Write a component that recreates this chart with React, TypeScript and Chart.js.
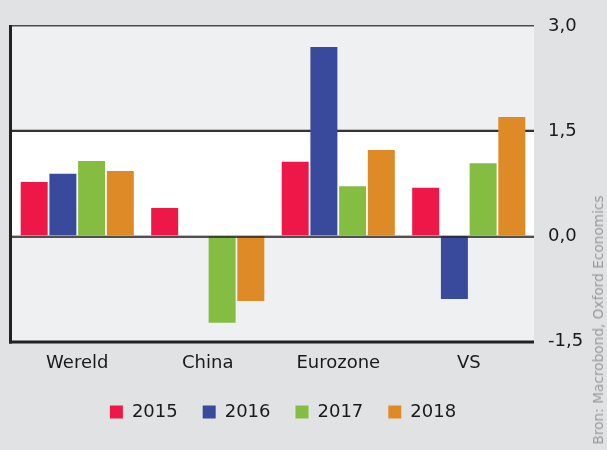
import React, { useEffect, useRef } from "react";
import { Chart, registerables } from "chart.js";

Chart.register(...registerables);

const categories = ["Wereld", "China", "Eurozone", "VS"];
const seriesLabels = ["2015", "2016", "2017", "2018"];
const values2015 = [0.77, 0.4, 1.06, 0.69];
const values2016 = [0.89, null, 2.7, -0.9];
const values2017 = [1.07, -1.24, 0.71, 1.04];
const values2018 = [0.93, -0.93, 1.23, 1.7];
const yTicks = [-1.5, 0, 1.5, 3.0];
const seriesColors = ["#ee1848", "#394a9c", "#84bd41", "#de8b27"];
const sourceText = "Bron: Macrobond, Oxford Economics";

const FONT = "'DejaVu Sans', sans-serif";

const decorPlugin = {
  id: "decor",
  afterLayout(chart: any) {
    const lg = chart.legend;
    if (lg) {
      const dx = 283 - (lg.left + lg.right) / 2;
      lg.left += dx;
      lg.right += dx;
      const h = lg.bottom - lg.top;
      lg.top = 378;
      lg.bottom = 378 + h;
    }
  },
  beforeDatasetsDraw(chart: any) {
    const { ctx, chartArea: a, scales } = chart;
    const y = scales.y;
    const w = a.right - a.left;
    ctx.save();
    ctx.fillStyle = "#eff0f2";
    ctx.fillRect(a.left, a.top, w, a.bottom - a.top);
    const y15 = y.getPixelForValue(1.5);
    const y0 = y.getPixelForValue(0);
    ctx.fillStyle = "#ffffff";
    ctx.fillRect(a.left, y15, w, y0 - y15);
    ctx.fillStyle = "#4a4a4a";
    ctx.fillRect(a.left, a.top - 1, w, 1.5);
    ctx.fillStyle = "#bdbdbd";
    ctx.fillRect(a.left, y15 - 2, w, 1);
    ctx.fillStyle = "#333333";
    ctx.fillRect(a.left, y15 - 1, w, 2);
    ctx.restore();
  },
  afterDatasetsDraw(chart: any) {
    const { ctx, chartArea: a, scales } = chart;
    const y = scales.y;
    const w = a.right - a.left;
    const y0 = y.getPixelForValue(0);
    ctx.save();
    ctx.fillStyle = "rgba(170,170,170,0.8)";
    ctx.fillRect(a.left, y0 - 1, w, 1);
    ctx.fillStyle = "rgba(40,40,40,0.8)";
    ctx.fillRect(a.left, y0, w, 2);
    ctx.fillStyle = "#222222";
    ctx.fillRect(a.left - 3, a.bottom - 0.5, w + 3, 3);
    ctx.fillRect(a.left - 3, a.top - 1, 3, a.bottom - a.top + 3.5);
    ctx.restore();
  },
};

export default function App() {
  const ref = useRef<HTMLCanvasElement | null>(null);

  useEffect(() => {
    if (!ref.current) return;
    Chart.defaults.font.family = FONT;
    const data = [values2015, values2016, values2017, values2018];
    const chart = new Chart(ref.current, {
      type: "bar",
      data: {
        labels: categories,
        datasets: seriesLabels.map((lab, i) => ({
          label: lab,
          data: data[i] as any,
          backgroundColor: seriesColors[i],
          borderWidth: 0,
          categoryPercentage: 0.88,
          barPercentage: 0.94,
        })),
      },
      options: {
        animation: false,
        responsive: false,
        maintainAspectRatio: false,
        layout: { padding: { left: 12, right: 0, top: 26, bottom: 0 } },
        plugins: {
          tooltip: { enabled: false },
          legend: {
            position: "bottom",
            labels: {
              boxWidth: 13,
              boxHeight: 13,
              padding: 25,
              color: "#1a1a1a",
              font: { size: 18, family: FONT },
            },
          },
        },
        scales: {
          x: {
            grid: { display: false, drawTicks: false },
            border: { display: false },
            ticks: {
              color: "#1a1a1a",
              font: { size: 18, family: FONT },
              padding: 12,
              maxRotation: 0,
            },
            afterFit: (s: any) => {
              const lh = s.chart.legend ? s.chart.legend.height : 0;
              s.height = 109 - lh;
            },
          },
          y: {
            position: "right",
            min: -1.5,
            max: 3,
            grid: { display: false, drawTicks: false },
            border: { display: false },
            afterBuildTicks: (s: any) => {
              s.ticks = yTicks.map((v) => ({ value: v }));
            },
            afterFit: (s: any) => {
              s.width = 73;
            },
            ticks: {
              color: "#1a1a1a",
              font: { size: 18, family: FONT },
              padding: 14,
              callback: (v: any) => Number(v).toFixed(1).replace(".", ","),
            },
          },
        },
      },
      plugins: [decorPlugin],
    });
    return () => chart.destroy();
  }, []);

  return (
    <div
      style={{
        position: "fixed",
        left: 0,
        top: 0,
        width: 607,
        height: 450,
        background: "#e1e2e4",
        overflow: "hidden",
      }}
    >
      <canvas ref={ref} width={607} height={450} style={{ display: "block" }} />
      <div
        style={{
          position: "absolute",
          left: 598,
          top: 320,
          transform: "translate(-50%, -50%) rotate(-90deg)",
          whiteSpace: "nowrap",
          fontFamily: FONT,
          fontSize: 13.7,
          color: "#9a9a9a",
        }}
      >
        {sourceText}
      </div>
    </div>
  );
}
